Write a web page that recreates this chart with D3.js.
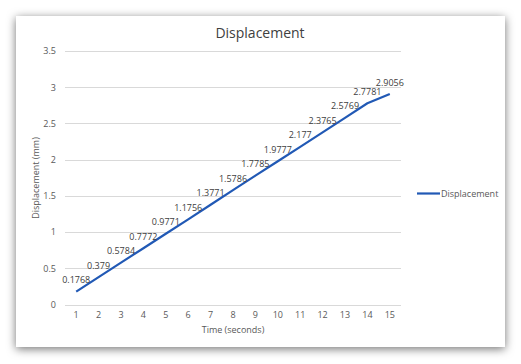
<!DOCTYPE html>
<html><head><meta charset="utf-8">
<script src="https://cdn.jsdelivr.net/npm/d3@7"></script>
<style>html,body{margin:0;padding:0;background:#fff;}svg{display:block;}</style>
</head><body>
<script>
const times = [1,2,3,4,5,6,7,8,9,10,11,12,13,14,15];
const displacement = [0.1768,0.379,0.5784,0.7772,0.9771,1.1756,1.3771,1.5786,1.7785,1.9777,2.177,2.3765,2.5769,2.7781,2.9056];
const yTicks = [0,0.5,1,1.5,2,2.5,3,3.5];
const title = "Displacement";
const xTitle = "Time (seconds)";
const yTitle = "Displacement (mm)";
const seriesName = "Displacement";

const W=521,H=364;
const font="'Open Sans', sans-serif";
const svg=d3.select("body").append("svg").attr("width",W).attr("height",H);
const defs=svg.append("defs");
const f=defs.append("filter").attr("id","sh").attr("x","-10%").attr("y","-10%").attr("width","120%").attr("height","120%");
f.append("feDropShadow").attr("dx",0).attr("dy",2).attr("stdDeviation",5).attr("flood-color","#000").attr("flood-opacity",0.55);
svg.append("rect").attr("x",16).attr("y",16).attr("width",489).attr("height",331).attr("fill","#fff").attr("filter","url(#sh)");

const x=d3.scaleBand().domain(times).range([65,401]);
const y=d3.scaleLinear().domain([0,3.5]).range([304.5,51]);

svg.append("g").selectAll("line").data(yTicks).join("line")
  .attr("x1",65).attr("x2",401).attr("y1",d=>Math.round(y(d))+0.5).attr("y2",d=>Math.round(y(d))+0.5)
  .attr("stroke","#d9d9d9").attr("stroke-width",1);

const ya=svg.append("g").attr("transform","translate(65,0)").call(d3.axisLeft(y).tickValues(yTicks).tickSize(0).tickPadding(9).tickFormat(d=>String(d)));
ya.select(".domain").remove();
ya.selectAll("text").attr("font-family",font).attr("font-size",9).attr("fill","#595959");

const xa=svg.append("g").attr("transform","translate(0,304.5)").call(d3.axisBottom(x).tickSize(0).tickPadding(7));
xa.select(".domain").remove();
xa.selectAll("text").attr("font-family",font).attr("font-size",9).attr("fill","#595959");

const cx=d=>x(d)+x.bandwidth()/2;
svg.append("path").datum(times.map((t,i)=>[t,displacement[i]]))
  .attr("d",d3.line().x(d=>cx(d[0])).y(d=>y(d[1])))
  .attr("fill","none").attr("stroke","#2159b5").attr("stroke-width",2.2).attr("stroke-linejoin","round");

svg.append("g").selectAll("text").data(times).join("text")
  .attr("x",t=>cx(t)).attr("y",(t,i)=>y(displacement[i])-8.5)
  .attr("text-anchor","middle").attr("font-family",font).attr("font-size",9).attr("fill","#404040")
  .text((t,i)=>String(displacement[i]));

svg.append("text").attr("x",260).attr("y",38).attr("text-anchor","middle").attr("font-family",font).attr("font-size",14).attr("fill","#404040").text(title);
svg.append("text").attr("x",233).attr("y",333).attr("text-anchor","middle").attr("font-family",font).attr("font-size",9).attr("fill","#595959").text(xTitle);
svg.append("text").attr("transform","translate(39,178) rotate(-90)").attr("text-anchor","middle").attr("font-family",font).attr("font-size",9).attr("fill","#595959").text(yTitle);

svg.append("line").attr("x1",417).attr("x2",440).attr("y1",193.5).attr("y2",193.5).attr("stroke","#2159b5").attr("stroke-width",2.2);
svg.append("text").attr("x",441).attr("y",196.5).attr("font-family",font).attr("font-size",9).attr("fill","#595959").text(seriesName);
</script>
</body></html>
